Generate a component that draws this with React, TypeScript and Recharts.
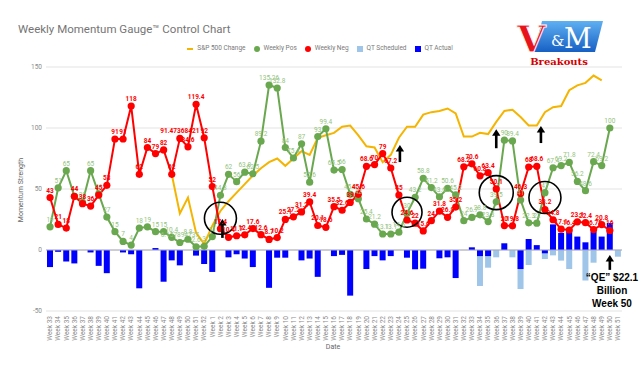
import React, { useMemo } from 'react';
import { ComposedChart, Line, Bar, XAxis, YAxis, CartesianGrid, LabelList, ReferenceDot, ReferenceLine } from 'recharts';

const weeks = [
  'Week 33', 'Week 34', 'Week 35', 'Week 36', 'Week 37', 'Week 38', 'Week 39', 'Week 40', 'Week 41', 'Week 42',
  'Week 43', 'Week 44', 'Week 45', 'Week 46', 'Week 47', 'Week 48', 'Week 49', 'Week 50', 'Week 51', 'Week 52',
  'Week 1', 'Week 2', 'Week 3', 'Week 4', 'Week 5', 'Week 6', 'Week 7', 'Week 8', 'Week 9', 'Week 10',
  'Week 11', 'Week 12', 'Week 13', 'Week 14', 'Week 15', 'Week 16', 'Week 17', 'Week 18', 'Week 19', 'Week 20',
  'Week 21', 'Week 22', 'Week 23', 'Week 24', 'Week 25', 'Week 26', 'Week 27', 'Week 28', 'Week 29', 'Week 30',
  'Week 31', 'Week 32', 'Week 33', 'Week 34', 'Week 35', 'Week 36', 'Week 37', 'Week 38', 'Week 39', 'Week 40',
  'Week 41', 'Week 42', 'Week 43', 'Week 44', 'Week 45', 'Week 46', 'Week 47', 'Week 48', 'Week 49', 'Week 50',
  'Week 51',
];

const weeklyPos = [
  19, 51, 65, 44, 39, 65, 46, 27, 15, 7,
  4, 18, 19, 15, 15, 10.4, 6.157894737, 8.8, 2.6, 3,
  11, 44.8, 62, 56, 63.8, 62.5, 89.2, 135.26, 132.8, 84,
  75.4, 87, 55.6, 93, 99.4, 65.5, 66, 45.6, 42, 25.4,
  21.2, 13.1, 13.1, 14.6, 30, 43.2, 58.8, 51.2, 43.6, 50.6,
  45.2, 24, 26.7, 28.8, 23.3, 39.5, 90, 89.4, 41, 22.3,
  22, 47, 67.4, 69.2, 71.8, 56.2, 48.6, 72.4, 69.2, 100,
  null,
];

const weeklyNeg = [
  43, 21, 18, 44, 38, 36, 45, 53, 91, 91,
  118, 62, 84, 79, 82, 62, 91.47368421, 84.6, 119.4, 92,
  52, 17.4, 10.4, 11.7, 12.4, 17.6, 12.6, 8.7, 10.2, 25.1,
  27.2, 31.2, 39.4, 20.1, 18.6, 35.5, 32.6, 39, 45.6, 68.6,
  70, 79, 67.2, 45, 24.6, 22, 15.6, 24, 31.8, 26.8,
  35.2, 68.2, 70.6, 60.8, 63.4, 50.1, 20, 19.8, 46.3, 68,
  68.6, 33.2, 24.8, 17.1, 16.4, 23.1, 22.4, 16.75, 20.8, 16,
  null,
];

const spChange = [
  ...Array(15).fill(null),
  62, 30, 43, 14, 5, 20, 32, 40, 47, 54, 61, 67, 72, 75, 69,
  75, 81, 78, 92, 94, 96, 101, 102, 94, 85, 84, 72, 78, 92, 101,
  101, 111, 113, 114, 116, 112, 93, 93, 96, 95, 105, 114, 115, 109, 102,
  102, 113, 117, 118, 131, 135, 137, 143, 139,
  null, null,
];

const qtScheduled = [
  ...Array(53).fill(null),
  -29.5, -14.5, -6, null, -6, -32, -12.3, null, -7.4, -4.4,
  -8.7, -15.6, null, -25, -10.4, null, null, -5.5,
];

const qtActual = [
  -14, -1.5, -9.5, -11, null, -2, -13, -19, null, -2,
  -3.5, -31.4, null, 1.6, -26, -8.5, -12.6, null, -4.6, -11.5,
  -18, null, -6, -3.5, -7, -14, null, -31, -6.3, -6.3,
  null, -8.5, -7, -22, null, -5, -4, -37.4, null, -15.6,
  -5, -8.5, -5, null, -6.3, -15.8, -15.3, null, -6.8, -6,
  -23, null, 2.2, -5, -5, null, 5.5, null, -15.6, 9,
  4, -2.7, 21, 14, 15, 11, 6.3, 15, 11, 22.1,
  null,
];

const yTicks = [-50, 0, 50, 100, 150];

// hand-drawn annotations: circled crossovers and arrows
const circleNotes = [
  { slot: 21, value: 26, r: 16 },
  { slot: 44, value: 31, r: 15 },
  { slot: 55, value: 47, r: 17 },
  { slot: 61, value: 43, r: 16 },
];
const arrowNotes = [
  { slot: 21, value: 25.5, len: 19, dx: 2 },
  { slot: 43, value: 86, len: 17, dx: 1 },
  { slot: 55, value: 99, len: 19, dx: 0 },
  { slot: 61, value: 101.6, len: 17, dx: -4 },
  { slot: 69, value: -4, len: 15, dx: 0 },
];

const GREEN = '#6aa84f';
const RED = '#ff0000';
const ORANGE = '#f4b400';
const LIGHT_BLUE = '#9fc5e8';
const BLUE = '#0000ff';

const WeekTick = (props: any) => {
  const { x, y, payload } = props;
  return (
    <text x={x} y={y} transform={`rotate(-90, ${x}, ${y})`} textAnchor="end" dy="0.35em" fontSize={6.5} fill="#8a8a8a">
      {weeks[payload.value]}
    </text>
  );
};

const ArrowUp = (props: any) => {
  const { cx, cy, len, dx } = props;
  const x = cx + dx;
  return (
    <g>
      <line x1={x} y1={cy + 5} x2={x} y2={cy + len} stroke="#000" strokeWidth={2.6} />
      <polygon points={`${x},${cy} ${x - 4.2},${cy + 6.5} ${x + 4.2},${cy + 6.5}`} fill="#000" />
    </g>
  );
};

const legendItems = [
  { label: 'S&P 500 Change', kind: 'line', color: ORANGE },
  { label: 'Weekly Pos', kind: 'dot', color: GREEN },
  { label: 'Weekly Neg', kind: 'dot', color: RED },
  { label: 'QT Scheduled', kind: 'square', color: LIGHT_BLUE },
  { label: 'QT Actual', kind: 'square', color: BLUE },
];

const App: React.FC = () => {
  const rows = useMemo(
    () =>
      weeks.map((week, slot) => ({
        slot,
        week,
        pos: weeklyPos[slot],
        neg: weeklyNeg[slot],
        sp: spChange[slot],
        sched: qtScheduled[slot],
        actual: qtActual[slot],
      })),
    []
  );

  return (
    <div style={{ position: 'absolute', left: 0, top: 0, width: 640, height: 368, background: '#fff', fontFamily: 'Roboto, sans-serif' }}>
      <ComposedChart
        width={640}
        height={368}
        data={rows}
        margin={{ top: 67, right: 18, bottom: 22, left: 16 }}
        barGap={-6}
      >
        <CartesianGrid vertical={false} stroke="#e3e3e3" />
        <XAxis
          dataKey="slot"
          type="category"
          interval={0}
          height={35}
          tickSize={0}
          tickMargin={5}
          axisLine={false}
          tickLine={false}
          tick={<WeekTick />}
        />
        <YAxis
          domain={[-50, 150]}
          ticks={yTicks}
          width={30}
          tickSize={0}
          tickMargin={4}
          axisLine={false}
          tickLine={false}
          tick={{ fontSize: 6.5, fill: '#8a8a8a' }}
        />
        <ReferenceLine y={0} stroke="#a8a8b8" strokeWidth={1} />
        <Bar dataKey="sched" fill={LIGHT_BLUE} barSize={6} isAnimationActive={false} />
        <Bar dataKey="actual" fill={BLUE} barSize={6} isAnimationActive={false} />
        <Line type="linear" dataKey="sp" stroke={ORANGE} strokeWidth={2} dot={false} activeDot={false} isAnimationActive={false} />
        <Line
          type="linear"
          dataKey="pos"
          stroke={GREEN}
          strokeWidth={2}
          dot={{ r: 3.6, fill: GREEN, stroke: 'none' }}
          activeDot={false}
          isAnimationActive={false}
        >
          <LabelList dataKey="pos" position="top" offset={5} fontSize={6.5} fill="#93c47d" />
        </Line>
        <Line
          type="linear"
          dataKey="neg"
          stroke={RED}
          strokeWidth={2}
          dot={{ r: 3.6, fill: RED, stroke: 'none' }}
          activeDot={false}
          isAnimationActive={false}
        >
          <LabelList dataKey="neg" position="top" offset={5} fontSize={6.5} fontWeight={700} fill={RED} />
        </Line>
        {circleNotes.map((c, i) => (
          <ReferenceDot key={`c-${i}`} x={c.slot} y={c.value} r={c.r} fill="none" stroke="#000" strokeWidth={1.6} />
        ))}
        {arrowNotes.map((a, i) => (
          <ReferenceDot
            key={`a-${i}`}
            x={a.slot}
            y={a.value}
            r={1}
            shape={(p: any) => <ArrowUp cx={p.cx} cy={p.cy} len={a.len} dx={a.dx} />}
          />
        ))}
      </ComposedChart>

      <div
        style={{
          position: 'absolute',
          left: 0,
          top: 44,
          width: 640,
          display: 'flex',
          justifyContent: 'center',
          gap: 8,
          fontSize: 6.5,
          color: '#7a7a7a',
          lineHeight: '9px',
        }}
      >
        {legendItems.map((it) => (
          <div key={it.label} style={{ display: 'flex', alignItems: 'center', gap: 4 }}>
            {it.kind === 'line' && <div style={{ width: 6, height: 2, background: it.color }} />}
            {it.kind === 'dot' && <div style={{ width: 6, height: 6, borderRadius: 3, background: it.color }} />}
            {it.kind === 'square' && <div style={{ width: 6, height: 6, background: it.color }} />}
            <span>{it.label}</span>
          </div>
        ))}
      </div>

      <svg width={640} height={368} style={{ position: 'absolute', left: 0, top: 0, pointerEvents: 'none' }}>
        <defs>
          <linearGradient id="vmBlue" x1="0" y1="0" x2="0" y2="1">
            <stop offset="0" stopColor="#5fb0f2" />
            <stop offset="1" stopColor="#1760c4" />
          </linearGradient>
        </defs>
        <text x={18} y={29} dominantBaseline="central" fontSize={11.5} fill="#757575" fontFamily="Roboto">
          Weekly Momentum Gauge™ Control Chart
        </text>
        <text x={21} y={190} transform="rotate(-90, 21, 190)" textAnchor="middle" dominantBaseline="central" fontSize={7} fill="#666">
          Momentum Strength
        </text>
        <text x={333} y={347} textAnchor="middle" dominantBaseline="central" fontSize={7} fill="#666">
          Date
        </text>

        <polygon points="542,21 603,21 595,52 534,52" fill="url(#vmBlue)" />
        <text x={517} y={52} fontFamily="DejaVu Serif" fontWeight={700} fontSize={37} fill="#e8141b" stroke="#fff" strokeWidth={0.8}>
          V
        </text>
        <text x={551} y={46} fontFamily="DejaVu Serif" fontSize={15} fill="#fff">
          &amp;
        </text>
        <text x={564} y={48} fontFamily="DejaVu Serif" fontSize={27} fill="#fff">
          M
        </text>
        <text x={559} y={61} textAnchor="middle" dominantBaseline="central" fontFamily="DejaVu Serif" fontWeight={700} fontSize={10} fill="#d10000">
          Breakouts
        </text>

        <g fontFamily="Liberation Sans" fontWeight={700} fontSize={10} fill="#000" textAnchor="middle">
          <text x={612} y={277} dominantBaseline="central">“QE” $22.1</text>
          <text x={612} y={290} dominantBaseline="central">Billion</text>
          <text x={612} y={303} dominantBaseline="central">Week 50</text>
        </g>
      </svg>
    </div>
  );
};

export default App;
